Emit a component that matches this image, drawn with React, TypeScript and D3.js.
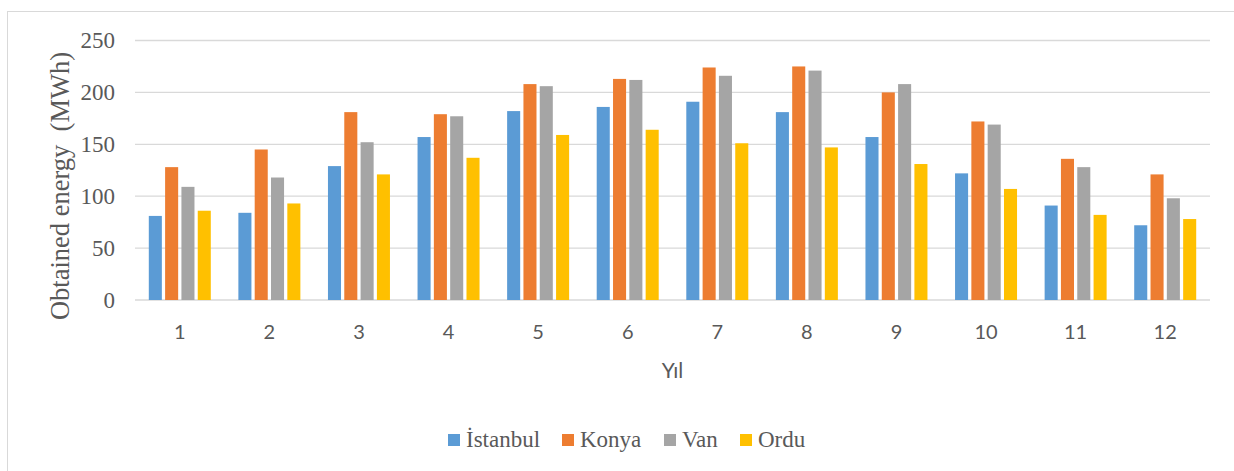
import React from "react";
import * as d3 from "d3";

const categories = ["1", "2", "3", "4", "5", "6", "7", "8", "9", "10", "11", "12"];
const seriesNames = ["İstanbul", "Konya", "Van", "Ordu"];
const istanbul = [81, 84, 129, 157, 182, 186, 191, 181, 157, 122, 91, 72];
const konya = [128, 145, 181, 179, 208, 213, 224, 225, 200, 172, 136, 121];
const van = [109, 118, 152, 177, 206, 212, 216, 221, 208, 169, 128, 98];
const ordu = [86, 93, 121, 137, 159, 164, 151, 147, 131, 107, 82, 78];
const yTicks = [0, 50, 100, 150, 200, 250];
const colors = ["#5B9BD5", "#ED7D31", "#A5A5A5", "#FFC000"];
const seriesValues = [istanbul, konya, van, ordu];

export default function App() {
  const W = 1234;
  const H = 471;
  const left = 135;
  const right = 1210;
  const y = d3.scaleLinear().domain([0, 250]).range([300, 40.5]);
  const x0 = d3.scaleBand<string>().domain(categories).range([left, right]).padding(0);
  const bw = x0.bandwidth();
  const x1 = d3
    .scaleBand<string>()
    .domain(seriesNames)
    .range([bw * 0.154, bw * 0.846])
    .paddingInner(0.2)
    .paddingOuter(0);

  const serif = "'Liberation Serif', 'Times New Roman', serif";
  const sans = "Lato, 'Noto Sans', sans-serif";
  const textColor = "#595959";

  const legendItems = [
    { name: seriesNames[0], sq: 448, tx: 466 },
    { name: seriesNames[1], sq: 562, tx: 580 },
    { name: seriesNames[2], sq: 664, tx: 682 },
    { name: seriesNames[3], sq: 740, tx: 758 },
  ];

  return (
    <svg
      width={W}
      height={H}
      style={{ position: "absolute", left: 0, top: 0, background: "#fff" }}
    >
      <rect x={0} y={0} width={W} height={H} fill="#fff" />
      <rect x={7.5} y={11.5} width={1300} height={500} fill="none" stroke="#d9d9d9" strokeWidth={1} />
      {yTicks.map((t) => (
        <g key={t}>
          <line x1={left} x2={right} y1={y(t)} y2={y(t)} stroke="#d9d9d9" strokeWidth={1.3} />
          <text
            x={115}
            y={y(t) + 7.5}
            textAnchor="end"
            fontFamily={serif}
            fontSize={23}
            fill={textColor}
          >
            {t}
          </text>
        </g>
      ))}
      {categories.map((c, ci) => (
        <g key={c} transform={`translate(${x0(c)},0)`}>
          {seriesNames.map((s, si) => {
            const v = seriesValues[si][ci];
            return (
              <rect
                key={s}
                x={x1(s)}
                y={y(v)}
                width={x1.bandwidth()}
                height={y(0) - y(v)}
                fill={colors[si]}
              />
            );
          })}
          <text
            x={bw / 2}
            y={339}
            textAnchor="middle"
            fontFamily={sans}
            fontSize={20}
            fill={textColor}
          >
            {c}
          </text>
        </g>
      ))}
      <text
        x={(left + right) / 2}
        y={378}
        textAnchor="middle"
        fontFamily={sans}
        fontSize={21}
        fill={textColor}
      >
        Yıl
      </text>
      <text
        transform={`translate(68.5,186) rotate(-90)`}
        textAnchor="middle"
        fontFamily={serif}
        fontSize={26.5}
        fill={textColor}
        style={{ whiteSpace: "pre" }}
      >
        {"Obtained energy  (MWh)"}
      </text>
      {legendItems.map((l, i) => (
        <g key={l.name}>
          <rect x={l.sq} y={434} width={12} height={12} fill={colors[i]} />
          <text x={l.tx} y={447} fontFamily={serif} fontSize={23} fill={textColor}>
            {l.name}
          </text>
        </g>
      ))}
    </svg>
  );
}
